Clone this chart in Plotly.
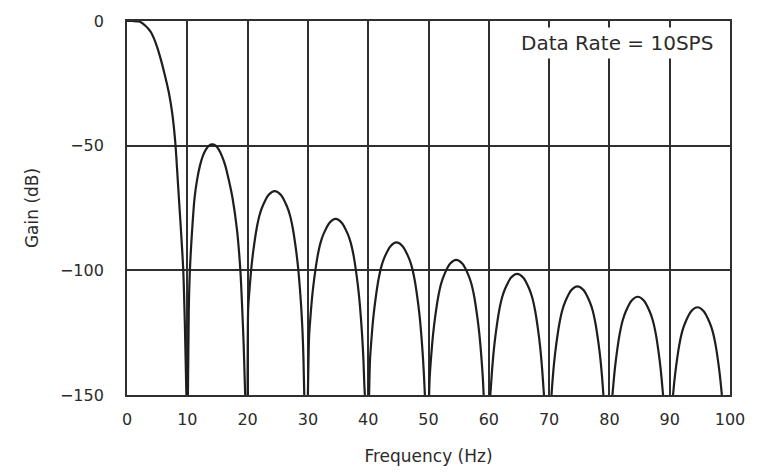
import plotly.graph_objects as go

# Filter frequency response, 10 SPS data rate: one list pair per lobe
main_hz = [0, 1, 2, 2.5, 3, 3.5, 4, 4.5, 5, 5.5, 6, 6.5, 7, 7.5, 8, 8.5, 9, 9.33, 9.6, 9.85]
main_db = [0, 0, -0.2, -0.8, -1.8, -3, -4.6, -7.2, -10.5, -14.5, -19, -24, -29.5, -37, -48.5, -67, -86, -100, -122, -150]

lobe1_hz = [10.1, 10.25, 10.43, 10.8, 11.2, 11.6, 12.1, 12.6, 13.1, 13.6, 14.15, 14.7, 15.2, 15.8, 16.3, 16.9, 17.5, 18.25, 18.8, 19.1, 19.35, 19.6]
lobe1_db = [-150, -115, -100, -84, -71, -64, -58, -54, -51.5, -50, -49.5, -50, -51.5, -54.5, -58, -64, -71, -84, -100, -115, -130, -150]

lobe2_hz = [20.0, 20.1, 20.3, 20.5, 20.7, 21.0, 21.5, 22.0, 22.5, 23.5, 24.5, 25.5, 26.5, 27.0, 27.5, 28.0, 28.3, 28.5, 28.7, 28.9, 29.1, 29.25, 29.4]
lobe2_db = [-150, -115.2, -108.2, -102.2, -97.2, -91.2, -83.2, -77.7, -74.2, -69.7, -68.2, -69.7, -74.2, -77.7, -83.2, -91.2, -97.2, -102.2, -108.2, -115.2, -124.2, -134.2, -150]

lobe3_hz = [30.0, 30.2, 30.4, 30.6, 30.8, 31.1, 31.6, 32.1, 32.6, 33.6, 34.6, 35.6, 36.6, 37.1, 37.6, 38.1, 38.4, 38.6, 38.8, 39.0, 39.2, 39.35, 39.45]
lobe3_db = [-150, -126.4, -119.4, -113.4, -108.4, -102.4, -94.4, -88.9, -85.4, -80.9, -79.4, -80.9, -85.4, -88.9, -94.4, -102.4, -108.4, -113.4, -119.4, -126.4, -135.4, -145.4, -150]

lobe4_hz = [40.15, 40.3, 40.5, 40.7, 40.9, 41.2, 41.7, 42.2, 42.7, 43.7, 44.7, 45.7, 46.7, 47.2, 47.7, 48.2, 48.5, 48.7, 48.9, 49.1, 49.3, 49.4]
lobe4_db = [-150, -135.8, -128.8, -122.8, -117.8, -111.8, -103.8, -98.3, -94.8, -90.3, -88.8, -90.3, -94.8, -98.3, -103.8, -111.8, -117.8, -122.8, -128.8, -135.8, -144.8, -150]

lobe5_hz = [50.1, 50.2, 50.4, 50.6, 50.8, 51.1, 51.6, 52.1, 52.6, 53.6, 54.6, 55.6, 56.6, 57.1, 57.6, 58.1, 58.4, 58.6, 58.8, 59.0, 59.15]
lobe5_db = [-150, -142.8, -135.8, -129.8, -124.8, -118.8, -110.8, -105.3, -101.8, -97.3, -95.8, -97.3, -101.8, -105.3, -110.8, -118.8, -124.8, -129.8, -135.8, -142.8, -150]

lobe6_hz = [60.25, 60.3, 60.5, 60.7, 60.9, 61.2, 61.7, 62.2, 62.7, 63.7, 64.7, 65.7, 66.7, 67.2, 67.7, 68.2, 68.5, 68.7, 68.9, 69.1, 69.15]
lobe6_db = [-150, -148.4, -141.4, -135.4, -130.4, -124.4, -116.4, -110.9, -107.4, -102.9, -101.4, -102.9, -107.4, -110.9, -116.4, -124.4, -130.4, -135.4, -141.4, -148.4, -150]

lobe7_hz = [70.4, 70.5, 70.7, 70.9, 71.2, 71.7, 72.2, 72.7, 73.7, 74.7, 75.7, 76.7, 77.2, 77.7, 78.2, 78.5, 78.7, 78.9, 79.0]
lobe7_db = [-150, -146.4, -140.4, -135.4, -129.4, -121.4, -115.9, -112.4, -107.9, -106.4, -107.9, -112.4, -115.9, -121.4, -129.4, -135.4, -140.4, -146.4, -150]

lobe8_hz = [80.5, 80.7, 80.9, 81.2, 81.7, 82.2, 82.7, 83.7, 84.7, 85.7, 86.7, 87.2, 87.7, 88.2, 88.5, 88.7, 88.9]
lobe8_db = [-150, -144.6, -139.6, -133.6, -125.6, -120.1, -116.6, -112.1, -110.6, -112.1, -116.6, -120.1, -125.6, -133.6, -139.6, -144.6, -150]

lobe9_hz = [90.55, 90.6, 90.8, 91.1, 91.6, 92.1, 92.6, 93.6, 94.6, 95.6, 96.6, 97.1, 97.6, 98.1, 98.4, 98.6, 98.65]
lobe9_db = [-150, -148.8, -143.8, -137.8, -129.8, -124.3, -120.8, -116.3, -114.8, -116.3, -120.8, -124.3, -129.8, -137.8, -143.8, -148.8, -150]

x_ticks = [0, 10, 20, 30, 40, 50, 60, 70, 80, 90, 100]
y_ticks = [0, -50, -100, -150]
rate_label = "Data Rate = 10SPS"

lobes = [
    (main_hz, main_db), (lobe1_hz, lobe1_db), (lobe2_hz, lobe2_db),
    (lobe3_hz, lobe3_db), (lobe4_hz, lobe4_db), (lobe5_hz, lobe5_db),
    (lobe6_hz, lobe6_db), (lobe7_hz, lobe7_db), (lobe8_hz, lobe8_db),
    (lobe9_hz, lobe9_db),
]

# Join the lobes into one trace; the nulls fall off the bottom of the scale
freq, gain = [], []
for hz, db in lobes:
    freq += hz + [None]
    gain += db + [None]

ink = "#2b2b2b"
font_family = "DejaVu Sans"

fig = go.Figure()
fig.add_trace(go.Scatter(
    x=freq, y=gain, mode="lines",
    line=dict(color="#1e1e1e", width=2.2, shape="spline", smoothing=0.8),
    connectgaps=False, hoverinfo="skip", showlegend=False,
))

fig.add_annotation(
    x=81.3, y=-8.9, xref="x", yref="y",
    text=rate_label, showarrow=False,
    font=dict(family=font_family, size=20, color=ink),
    bgcolor="white", borderpad=3,
)

axis_common = dict(
    showgrid=True, gridcolor="#2f2f2f", gridwidth=1.5,
    showline=True, mirror=True, linecolor="#2f2f2f", linewidth=1.8,
    zeroline=False, ticks="",
    tickfont=dict(family=font_family, size=16, color=ink),
)

fig.update_xaxes(
    range=[0, 100], tickvals=x_ticks, ticktext=[str(v) for v in x_ticks],
    ticklabelstandoff=9,
    title=dict(text="Frequency (Hz)", font=dict(family=font_family, size=17, color=ink), standoff=22),
    **axis_common,
)
fig.update_yaxes(
    range=[-150, 0], tickvals=y_ticks,
    ticktext=[str(v).replace("-", "\u2212") for v in y_ticks],
    ticklabelstandoff=18,
    title=dict(text="Gain (dB)", font=dict(family=font_family, size=17, color=ink), standoff=17),
    **axis_common,
)

fig.update_layout(
    width=762, height=475,
    margin=dict(l=127, r=32, t=16, b=78),
    paper_bgcolor="white", plot_bgcolor="white",
)

fig.write_html("out.html")
